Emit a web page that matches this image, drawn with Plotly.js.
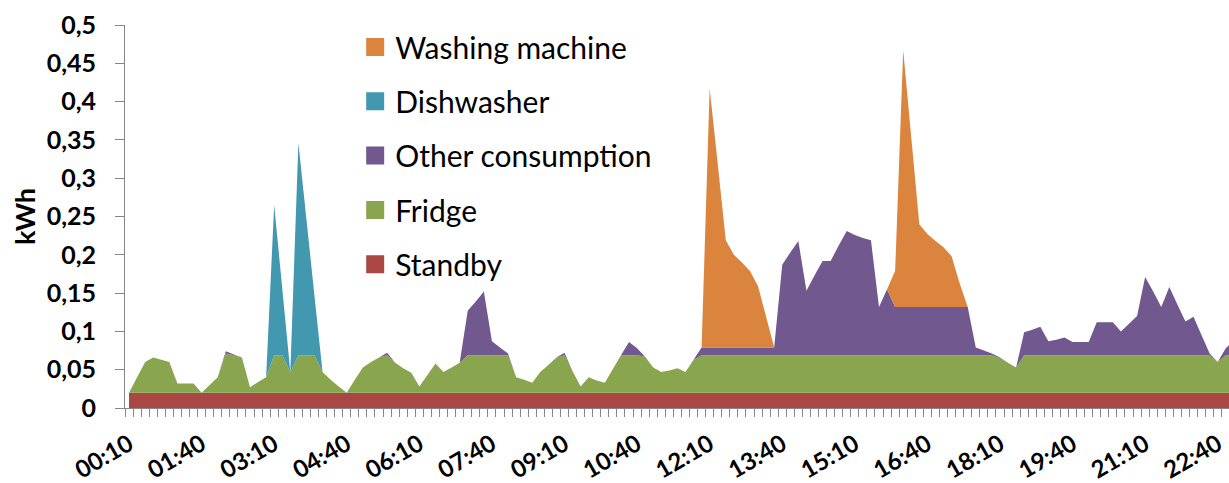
<!DOCTYPE html>
<html><head><meta charset="utf-8">
<script src="https://cdn.plot.ly/plotly-3.0.1.min.js"></script>
<style>html,body{margin:0;padding:0;background:#fff}#chart{width:1229px;height:483px}</style>
</head><body><div id="chart"></div>
<script>
const times = [
'00:10','00:20','00:30','00:40','00:50','01:00',
'01:10','01:20','01:30','01:40','01:50','02:00',
'02:10','02:20','02:30','02:40','02:50','03:00',
'03:10','03:20','03:30','03:40','03:50','04:00',
'04:10','04:20','04:30','04:40','04:50','05:00',
'05:10','05:20','05:30','05:40','05:50','06:00',
'06:10','06:20','06:30','06:40','06:50','07:00',
'07:10','07:20','07:30','07:40','07:50','08:00',
'08:10','08:20','08:30','08:40','08:50','09:00',
'09:10','09:20','09:30','09:40','09:50','10:00',
'10:10','10:20','10:30','10:40','10:50','11:00',
'11:10','11:20','11:30','11:40','11:50','12:00',
'12:10','12:20','12:30','12:40','12:50','13:00',
'13:10','13:20','13:30','13:40','13:50','14:00',
'14:10','14:20','14:30','14:40','14:50','15:00',
'15:10','15:20','15:30','15:40','15:50','16:00',
'16:10','16:20','16:30','16:40','16:50','17:00',
'17:10','17:20','17:30','17:40','17:50','18:00',
'18:10','18:20','18:30','18:40','18:50','19:00',
'19:10','19:20','19:30','19:40','19:50','20:00',
'20:10','20:20','20:30','20:40','20:50','21:00',
'21:10','21:20','21:30','21:40','21:50','22:00',
'22:10','22:20','22:30','22:40','22:50','23:00'
];
const tickLabels = ['00:10','01:40','03:10','04:40','06:10','07:40','09:10','10:40','12:10','13:40','15:10','16:40','18:10','19:40','21:10','22:40'];
const yTickVals = [0,0.05,0.1,0.15,0.2,0.25,0.3,0.35,0.4,0.45,0.5];
const yTickText = ['0','0,05','0,1','0,15','0,2','0,25','0,3','0,35','0,4','0,45','0,5'];

const standby = [
0.02,0.02,0.02,0.02,0.02,0.02,0.02,0.02,0.02,0.02,
0.02,0.02,0.02,0.02,0.02,0.02,0.02,0.02,0.02,0.02,
0.02,0.02,0.02,0.02,0.02,0.02,0.02,0.02,0.02,0.02,
0.02,0.02,0.02,0.02,0.02,0.02,0.02,0.02,0.02,0.02,
0.02,0.02,0.02,0.02,0.02,0.02,0.02,0.02,0.02,0.02,
0.02,0.02,0.02,0.02,0.02,0.02,0.02,0.02,0.02,0.02,
0.02,0.02,0.02,0.02,0.02,0.02,0.02,0.02,0.02,0.02,
0.02,0.02,0.02,0.02,0.02,0.02,0.02,0.02,0.02,0.02,
0.02,0.02,0.02,0.02,0.02,0.02,0.02,0.02,0.02,0.02,
0.02,0.02,0.02,0.02,0.02,0.02,0.02,0.02,0.02,0.02,
0.02,0.02,0.02,0.02,0.02,0.02,0.02,0.02,0.02,0.02,
0.02,0.02,0.02,0.02,0.02,0.02,0.02,0.02,0.02,0.02,
0.02,0.02,0.02,0.02,0.02,0.02,0.02,0.02,0.02,0.02,
0.02,0.02,0.02,0.02,0.02,0.02,0.02,0.02
];
const fridge = [
0,0.02,0.04,0.046,0.043,0.04,0.012,0.012,0.012,0,
0.01,0.02,0.051,0.049,0.046,0.007,0.014,0.02,0.049,0.049,
0.027,0.049,0.049,0.049,0.027,0.017,0.008,0,0.017,0.033,
0.04,0.046,0.049,0.039,0.032,0.026,0.008,0.023,0.038,0.027,
0.033,0.039,0.049,0.049,0.049,0.049,0.049,0.049,0.02,0.017,
0.013,0.027,0.036,0.046,0.049,0.028,0.008,0.02,0.016,0.013,
0.031,0.049,0.049,0.049,0.047,0.033,0.027,0.029,0.032,0.027,
0.043,0.049,0.049,0.049,0.049,0.049,0.049,0.049,0.049,0.049,
0.049,0.049,0.049,0.049,0.049,0.049,0.049,0.049,0.049,0.049,
0.049,0.049,0.049,0.049,0.049,0.049,0.049,0.049,0.049,0.049,
0.049,0.049,0.049,0.049,0.049,0.049,0.049,0.049,0.045,0.039,
0.033,0.049,0.049,0.049,0.049,0.049,0.049,0.049,0.049,0.049,
0.049,0.049,0.049,0.049,0.049,0.049,0.049,0.049,0.049,0.049,
0.049,0.049,0.049,0.049,0.049,0.04,0.049,0.049
];
const other = [
0,0,0,0,0,0,0,0,0,0,
0,0,0.003,0.001,0,0,0,0,0,0,
0,0,0,0,0,0,0,0,0,0,
0,0,0.003,0,0,0,0,0,0,0,
0,0,0.058,0.070,0.083,0.018,0.010,0.002,0,0,
0,0,0,0,0.003,0,0,0,0,0,
0,0,0.017,0.009,0,0,0,0,0,0,
0,0.010,0.010,0.010,0.010,0.010,0.010,0.010,0.010,0.010,
0.010,0.118,0.134,0.149,0.084,0.104,0.123,0.123,0.143,0.162,
0.157,0.153,0.150,0.063,0.086,0.063,0.063,0.063,0.063,0.063,
0.063,0.063,0.063,0.063,0.063,0.010,0.006,0.002,0.001,0,
0,0.030,0.033,0.037,0.018,0.020,0.023,0.017,0.017,0.017,
0.043,0.043,0.043,0.031,0.041,0.051,0.102,0.083,0.063,0.089,
0.066,0.044,0.050,0.026,0.002,0,0.009,0.019
];
const dishwasher = [
0,0,0,0,0,0,0,0,0,0,
0,0,0,0,0,0,0,0,0.196,0.087,
0,0.277,0.177,0.077,0,0,0,0,0,0,
0,0,0,0,0,0,0,0,0,0,
0,0,0,0,0,0,0,0,0,0,
0,0,0,0,0,0,0,0,0,0,
0,0,0,0,0,0,0,0,0,0,
0,0,0,0,0,0,0,0,0,0,
0,0,0,0,0,0,0,0,0,0,
0,0,0,0,0,0,0,0,0,0,
0,0,0,0,0,0,0,0,0,0,
0,0,0,0,0,0,0,0,0,0,
0,0,0,0,0,0,0,0,0,0,
0,0,0,0,0,0,0,0
];
const washing = [
0,0,0,0,0,0,0,0,0,0,
0,0,0,0,0,0,0,0,0,0,
0,0,0,0,0,0,0,0,0,0,
0,0,0,0,0,0,0,0,0,0,
0,0,0,0,0,0,0,0,0,0,
0,0,0,0,0,0,0,0,0,0,
0,0,0,0,0,0,0,0,0,0,
0,0,0.338,0.240,0.140,0.121,0.111,0.100,0.080,0.040,
0,0,0,0,0,0,0,0,0,0,
0,0,0,0,0,0.047,0.335,0.221,0.108,0.095,
0.086,0.078,0.066,0.031,0,0,0,0,0,0,
0,0,0,0,0,0,0,0,0,0,
0,0,0,0,0,0,0,0,0,0,
0,0,0,0,0,0,0,0
];

const series = [
  {name:'Standby', y:standby, color:'#AA4643'},
  {name:'Fridge', y:fridge, color:'#89A54E'},
  {name:'Other consumption', y:other, color:'#71588F'},
  {name:'Dishwasher', y:dishwasher, color:'#4198AF'},
  {name:'Washing machine', y:washing, color:'#DB843D'}
];

const traces = series.map(s => ({
  type:'scatter', mode:'none', x:times, y:s.y, name:s.name,
  stackgroup:'one', fillcolor:s.color, showlegend:false, hoverinfo:'skip'
}));
// legend entries (top to bottom)
series.slice().reverse().forEach((s,k) => {
  traces.push({
    type:'scatter', mode:'markers', x:[null], y:[null], name:s.name,
    legendgroup:'g'+k, showlegend:true,
    marker:{symbol:'square', size:16, color:s.color, line:{color:s.color, width:2}}
  });
});

const tickFont = {size:25, family:'Lato', weight:'bold', color:'#000'};
const layout = {
  width:1229, height:483,
  margin:{l:125, r:0, t:25, b:75},
  paper_bgcolor:'#fff', plot_bgcolor:'#fff',
  font:{family:'Lato, "Open Sans", sans-serif', color:'#000'},
  showlegend:true,
  legend:{x:0.2085, y:1.0104, xanchor:'left', yanchor:'top', traceorder:'grouped',
    tracegroupgap:12.3, maxheight:460, bgcolor:'rgba(0,0,0,0)',
    font:{size:30, color:'#000'}, itemsizing:'trace'},
  xaxis:{type:'category', range:[-0.5,136.4], fixedrange:true,
    tickmode:'array', tickvals:times,
    ticktext:times.map(t => tickLabels.includes(t) ? t : ''),
    tickson:'boundaries', ticks:'outside', ticklen:8, tickcolor:'#868686', tickwidth:1,
    showline:true, linecolor:'#868686', linewidth:1, showgrid:false, zeroline:false,
    ticklabelstandoff:12,
    tickangle:-30, tickfont:{size:24, family:'Lato', weight:'bold', color:'#000'}},
  yaxis:{range:[0,0.5], fixedrange:true, tickmode:'array', tickvals:yTickVals, ticktext:yTickText,
    ticks:'outside', ticklen:9, tickcolor:'#868686', showline:true, linecolor:'#868686', linewidth:1,
    showgrid:false, zeroline:false, ticklabelstandoff:14,
    tickfont:tickFont,
    title:{text:'kWh', standoff:3, font:{size:27, family:'Lato', weight:'bold', color:'#000'}}}
};
Plotly.newPlot('chart', traces, layout, {displayModeBar:false, staticPlot:true});
</script>
</body></html>
